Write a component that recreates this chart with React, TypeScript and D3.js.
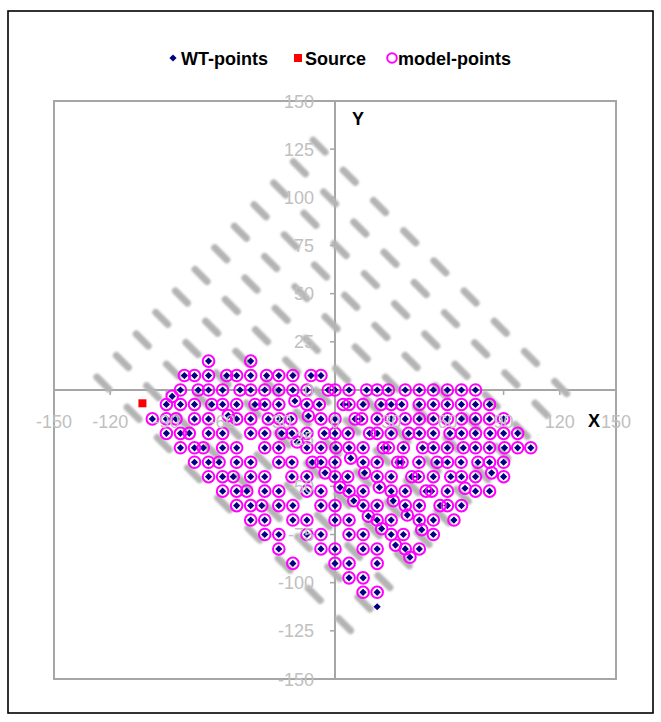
import React from "react";
import * as d3 from "d3";

const W = 661;
const H = 722;

const xTicks = [-150, -120, -90, -60, -30, 0, 30, 60, 90, 120, 150];
const yTicks = [150, 125, 100, 75, 50, 25, 0, -25, -50, -75, -100, -125, -150];

// WT points on rows (y) with their x positions
const rowY = [15, 7.5, 0, -7.5, -15, -22.5, -30, -37.5, -45, -52.5, -60, -67.5, -75, -82.5, -90, -97.5, -105];
const rowX = [
  [-67.5, -45],
  [-80.4, -75, -67.5, -57.8, -52.5, -45, -36.5, -30, -22.5, -12.8, -7.5],
  [-82.5, -73, -67.5, -60, -50.7, -45, -37.5, -30, -22.5, -15, -3.6, 0, 7.5, 16.9, 22.5, 28.5, 37.5, 45, 52.5, 60, 67.5, 75],
  [-90, -82.5, -75, -65.8, -60, -52.5, -42.7, -37.5, -30, -15, -8.4, 4.4, 7.5, 15, 24.6, 30, 35.6, 45, 52.5, 60, 67.5, 75, 82.5],
  [-97.5, -90, -84.9, -75, -67.5, -52.5, -45, -35.6, -29.5, -23.5, -7.5, 0, 10.7, 14.2, 22.5, 30, 37.5, 45, 52.5, 60, 67.5, 75, 82.5, 90],
  [-90, -82.5, -77.8, -67.5, -60, -45, -37.5, -28.5, -23, -15, -5.7, 0, 7, 18.5, 22.5, 30, 39.3, 45, 52.5, 61.4, 67.5, 75, 82.8, 90, 97.5],
  [-82.5, -75, -70.3, -60, -52.5, -37.5, -30, -15, -7.5, 0.5, 7.5, 15, 25.8, 28.5, 36.5, 46.8, 52.5, 60, 68.5, 75, 82.5, 90.5, 97.5, 104.5],
  [-75, -67.5, -61.9, -52.5, -45, -30, -23, -12.1, -7.5, 0, 15, 22.5, 33.5, 35.8, 44.8, 54.5, 60, 67.3, 76.3, 82.5, 90],
  [-67.5, -60, -54.3, -45, -37.5, -23, -15, 0, 6.8, 22.5, 30, 41, 44.5, 52.5, 61.8, 67.5, 75, 90],
  [-60, -52.5, -47.1, -37.5, -30, -15, -7.5, 7.5, 15, 30, 37.5, 48.6, 51.6, 60, 75, 82.5],
  [-52.5, -45, -39.1, -30, -22.5, -7.5, 0, 15, 22.5, 37.5, 45, 56.1, 60, 67.5],
  [-45, -37.5, -22.5, -15, 0, 7.5, 22.5, 30, 45, 52.5, 63.5],
  [-37.5, -30, -15, -7.5, 7.5, 15, 30, 36.5, 52.5],
  [-30, -7.5, 0, 15, 22.5, 37.5, 45],
  [-22.5, 0, 7.5, 22.5],
  [7.5, 15],
  [15, 22.5],
];
// WT points lying between rows
const offGridX = [-86.9, -21.4, -57, -14.2, -20.2, 8.4, -5.3, 15.8, 83.6, 2.7, 23.7, 69.4, 10, 31.1, 17.8, 38.6, 24.9, 46.3, 32.3, 40];
const offGridY = [-3.3, -5.7, -13.3, -13.5, -27, -35.4, -43, -43, -43, -50.5, -50.5, -51, -57.5, -57.5, -65.5, -64.9, -72, -72.5, -80.5, -86.8];
// WT point without a model point
const unmodeledX = [22.5];
const unmodeledY = [-112.5];

const sourceX = [-102.8];
const sourceY = [-6.9];

// gray dashed rows: start and end of each line
const gridStartX = [-11.7, -22.2, -32.7, -43.2, -53.7, -64.2, -74.7, -85.2, -95.7, -106.1, -116.7, -127.1];
const gridStartY = [129.7, 118.5, 107.4, 96.2, 85.0, 73.8, 62.6, 51.4, 40.3, 29.1, 17.9, 6.7];
const gridEndX = [126.3, 115.8, 105.3, 94.8, 84.3, 73.8, 63.3, 52.8, 42.3, 31.9, 21.3, 10.9];
const gridEndY = [-4.4, -15.6, -26.7, -37.9, -49.1, -60.3, -71.5, -82.7, -93.8, -105, -116.2, -127.4];

const legendItems = ["WT-points", "Source", "model-points"];

export default function App() {
  const x = d3.scaleLinear().domain([-150, 150]).range([54, 616]);
  const y = d3.scaleLinear().domain([-150, 150]).range([679, 101]);
  const line = d3
    .line<[number, number]>()
    .x((d) => x(d[0]))
    .y((d) => y(d[1]));

  const modelPts: [number, number][] = [];
  rowX.forEach((xs, i) => xs.forEach((v) => modelPts.push([v, rowY[i]])));
  offGridX.forEach((v, i) => modelPts.push([v, offGridY[i]]));
  const wtPts: [number, number][] = modelPts.concat(
    unmodeledX.map((v, i) => [v, unmodeledY[i]] as [number, number])
  );

  const font = "Arial, 'Liberation Sans', sans-serif";
  const diamond = (cx: number, cy: number, r: number) =>
    `M${cx},${cy - r}L${cx + r},${cy}L${cx},${cy + r}L${cx - r},${cy}Z`;

  const x0 = x(0);
  const y0 = y(0);

  return (
    <svg
      width={W}
      height={H}
      style={{ position: "absolute", left: 0, top: 0, background: "#fff" }}
      fontFamily={font}
    >
      <defs>
        <filter id="soft" x="-20%" y="-20%" width="140%" height="140%">
          <feGaussianBlur stdDeviation="0.8" />
        </filter>
      </defs>
      <rect x={0} y={0} width={W} height={H} fill="#fff" />
      {/* outer chart border */}
      <rect x={8} y={11} width={645} height={702} fill="none" stroke="#000" strokeWidth={1.6} />

      {/* legend */}
      <g fontWeight="bold" fontSize={18} fill="#000">
        <path d={diamond(173, 58, 3.6)} fill="#000080" />
        <text x={181} y={64.5}>{legendItems[0]}</text>
        <rect x={294} y={54} width={8} height={8} fill="#ff0000" />
        <text x={305} y={64.5}>{legendItems[1]}</text>
        <circle cx={392} cy={58} r={4.8} fill="none" stroke="#ff00ff" strokeWidth={2} />
        <text x={398} y={64.5}>{legendItems[2]}</text>
      </g>

      {/* plot area border */}
      <rect
        x={x(-150)}
        y={y(150)}
        width={x(150) - x(-150)}
        height={y(-150) - y(150)}
        fill="none"
        stroke="#a6a6a6"
        strokeWidth={2}
      />
      {/* axes */}
      <line x1={x(-150)} x2={x(150)} y1={y0} y2={y0} stroke="#a6a6a6" strokeWidth={2} />
      <line x1={x0} x2={x0} y1={y(150)} y2={y(-150)} stroke="#a6a6a6" strokeWidth={2} />
      {xTicks.map((t) => (
        <line key={"xt" + t} x1={x(t)} x2={x(t)} y1={y0} y2={y0 + 5} stroke="#a6a6a6" strokeWidth={1.5} />
      ))}
      {yTicks.map((t) => (
        <line key={"yt" + t} x1={x0 - 5} x2={x0} y1={y(t)} y2={y(t)} stroke="#a6a6a6" strokeWidth={1.5} />
      ))}

      {/* dashed gray rows */}
      <g filter="url(#soft)">
        {gridStartX.map((sx, i) => (
          <path
            key={"g" + i}
            d={line([
              [sx, gridStartY[i]],
              [gridEndX[i], gridEndY[i]],
            ]) as string}
            fill="none"
            stroke="#b4b4b4"
            strokeWidth={7}
            strokeLinecap="round"
            strokeDasharray="17 25.7"
          />
        ))}
      </g>

      {/* WT points */}
      <g fill="#000080">
        {wtPts.map((p, i) => (
          <path key={"w" + i} d={diamond(x(p[0]), y(p[1]), 3.6)} />
        ))}
      </g>
      {/* Source */}
      {sourceX.map((sx, i) => (
        <rect key={"s" + i} x={x(sx) - 4} y={y(sourceY[i]) - 4} width={8} height={8} fill="#ff0000" />
      ))}
      {/* model points */}
      <g fill="none" stroke="#ff00ff" strokeWidth={2}>
        {modelPts.map((p, i) => (
          <circle key={"m" + i} cx={x(p[0])} cy={y(p[1])} r={5.8} />
        ))}
      </g>

      {/* tick labels (drawn over the points, as in the reference) */}
      <g fontSize={18} fill="#c0c0c0">
        {xTicks.map((t) => (
          <text key={"xl" + t} x={x(t)} y={y0 + 38} textAnchor="middle">
            {t}
          </text>
        ))}
        {yTicks.map((t) => (
          <text key={"yl" + t} x={x0 - 21} y={y(t) + 6.5} textAnchor="end">
            {t}
          </text>
        ))}
      </g>
      {/* axis titles */}
      <text x={594} y={427} fontSize={18} fontWeight="bold" textAnchor="middle">
        X
      </text>
      <text x={358} y={125} fontSize={18} fontWeight="bold" textAnchor="middle">
        Y
      </text>
    </svg>
  );
}
